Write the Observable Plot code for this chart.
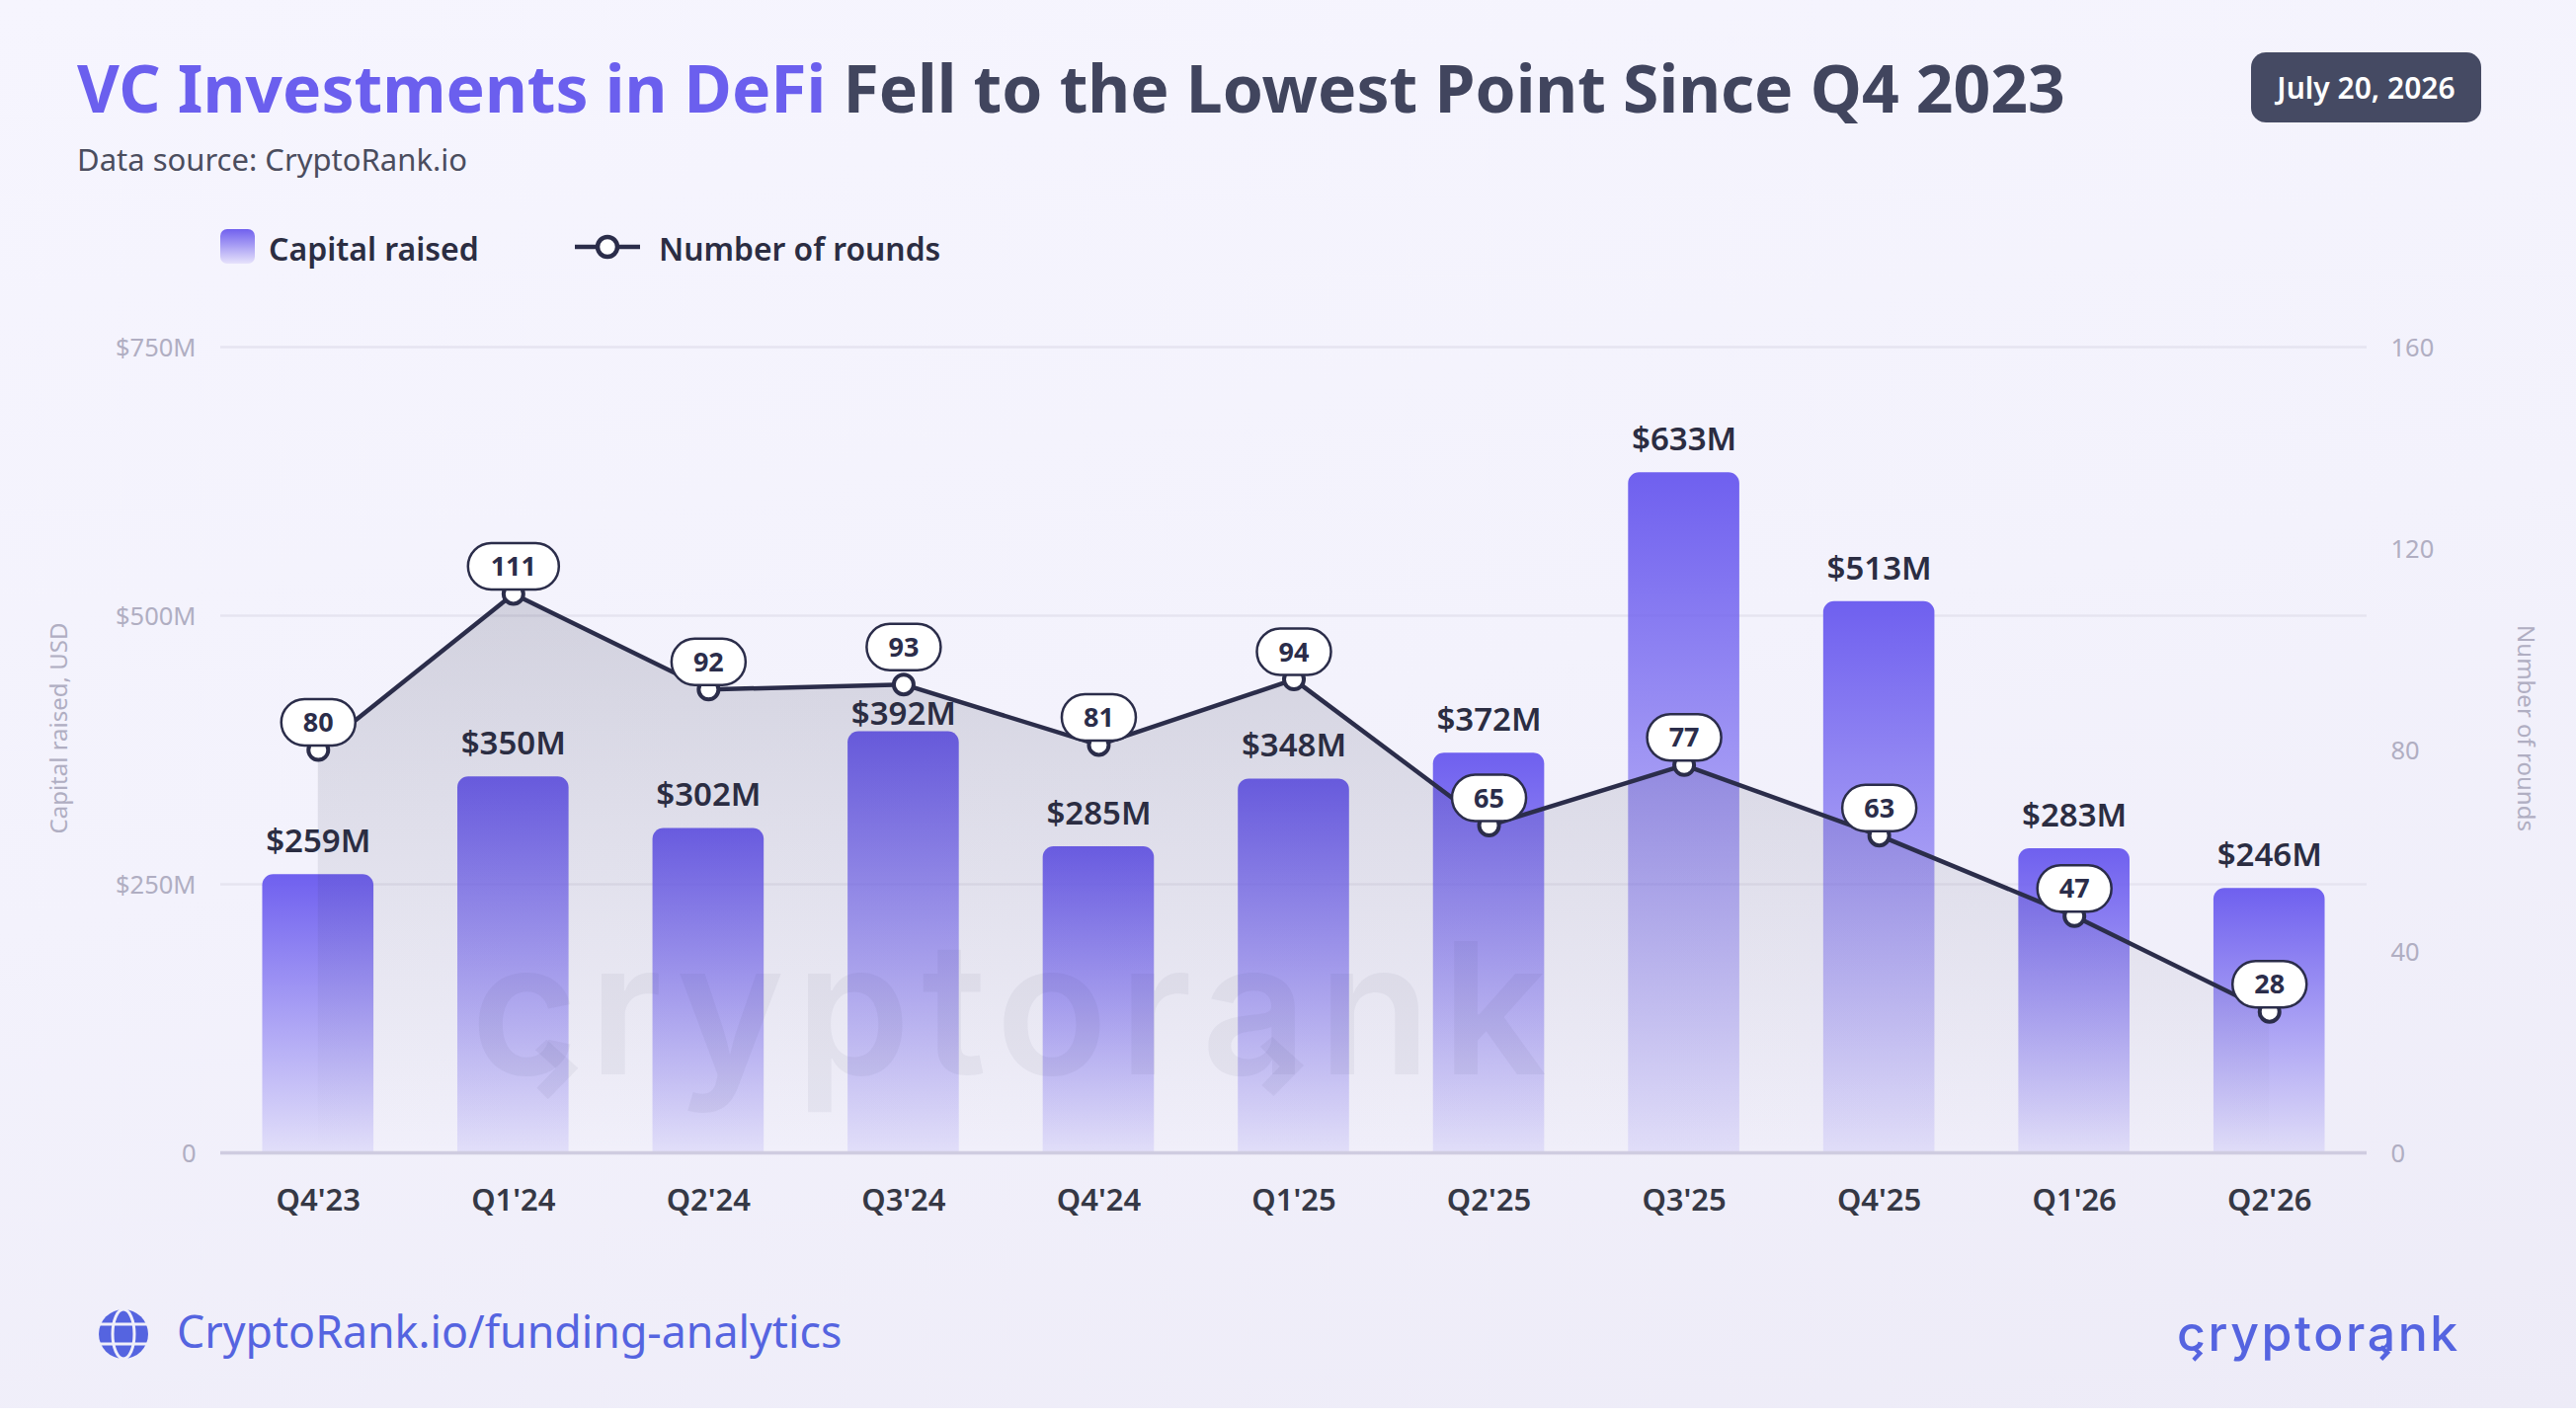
<!DOCTYPE html>
<html>
<head>
<meta charset="utf-8">
<script src="https://cdn.jsdelivr.net/npm/d3@7"></script>
<script src="https://cdn.jsdelivr.net/npm/@observablehq/plot@0.6"></script>
<style>
html,body{margin:0;padding:0;width:2608px;height:1436px;overflow:hidden;background:#fff;}
body{position:relative;font-family:"Noto Sans",sans-serif;}
#bg{position:absolute;left:0;top:0;width:2608px;height:1426px;background:linear-gradient(170deg,#f6f5fe 0%,#f3f2fc 50%,#edebf7 100%);}
.abs{position:absolute;white-space:nowrap;}
#header{position:relative;height:300px;}
#chart{position:relative;}
#chart svg{display:block;background:transparent;overflow:visible;}
#footer{position:relative;height:176px;}
</style>
</head>
<body>
<div id="bg"></div>
<div id="header">
  <div class="abs" style="left:78px;top:44px;font-size:66px;line-height:88px;font-weight:700;color:#41455e;"><span style="color:#6b5fee">VC Investments in DeFi</span> Fell to the Lowest Point Since Q4 2023</div>
  <div class="abs" style="left:78px;top:138px;font-size:31px;line-height:46px;color:#4b4d5e;">Data source: CryptoRank.io</div>
  <div class="abs" style="left:2279px;top:53px;width:233px;height:71px;border-radius:15px;background:#454a63;color:#fff;font-size:30px;font-weight:600;line-height:71px;text-align:center;">July 20, 2026</div>
  <div class="abs" style="left:223px;top:232px;width:35px;height:35px;border-radius:7px;background:linear-gradient(#7060ee,#e6e2fb);"></div>
  <div class="abs" style="left:272px;top:228px;font-size:32px;line-height:48px;font-weight:600;color:#2b2d42;">Capital raised</div>
  <svg class="abs" style="left:582px;top:230px;" width="66" height="40"><line x1="0" x2="66" y1="20" y2="20" stroke="#2b2d4a" stroke-width="4.5"/><circle cx="33" cy="20" r="10" fill="#fff" stroke="#2b2d4a" stroke-width="4.5"/></svg>
  <div class="abs" style="left:667px;top:228px;font-size:31.8px;line-height:48px;font-weight:600;color:#2b2d42;">Number of rounds</div>
</div>
<div id="chart"></div>
<div id="footer">
  <svg class="abs" style="left:100px;top:66px;" width="50" height="50" viewBox="0 0 50 50">
    <circle cx="25" cy="25" r="25" fill="#5564e0"/>
    <g fill="none" stroke="#f0eff9" stroke-width="3"><ellipse cx="25" cy="25" rx="11" ry="25"/><line x1="0" x2="50" y1="15" y2="15"/><line x1="0" x2="50" y1="35" y2="35"/></g>
  </svg>
  <div class="abs" style="left:179px;top:56px;font-size:44.7px;line-height:64px;color:#5564e0;">CryptoRank.io/funding-analytics</div>
  <div class="abs" id="logo" style="left:2204px;top:53px;font-size:50px;line-height:74px;letter-spacing:2.6px;font-family:Inter,sans-serif;font-weight:500;color:#5564e0;">cryptorank</div>
</div>
<script>
const quarters = ["Q4'23","Q1'24","Q2'24","Q3'24","Q4'24","Q1'25","Q2'25","Q3'25","Q4'25","Q1'26","Q2'26"];
const capitalRaised = [259,350,302,392,285,348,372,633,513,283,246];
const roundsCount = [80,111,92,93,81,94,65,77,63,47,28];
const capitalTicks = [0,250,500,750];
const roundsTicks = [0,40,80,120,160];
const nudgedQuarter = "Q3'24";

const capitalMax = 750, roundsMax = 160;
const k = capitalMax / roundsMax;
const table = quarters.map((q,i)=>({q,capital:capitalRaised[i],rounds:roundsCount[i]}));
const fmtCap = v => v === 0 ? "0" : `$${v}M`;
const ink = "#2b2d4a";
const tickInk = "#b0aec2";
const isNudged = d => d.q === nudgedQuarter;
const notNudged = d => d.q !== nudgedQuarter;

function pill(w,h){
  const r=h/2, a=w/2-r;
  return {draw(c){
    c.moveTo(-a,-r); c.lineTo(a,-r);
    c.arc(a,0,r,-Math.PI/2,Math.PI/2);
    c.lineTo(-a,r);
    c.arc(-a,0,r,Math.PI/2,Math.PI*1.5);
    c.closePath();
  }};
}
const defs = () => {
  const s = d3.create("svg:defs");
  const g = s.append("linearGradient").attr("id","barG").attr("x1",0).attr("x2",0).attr("y1",0).attr("y2",1);
  g.append("stop").attr("offset",0).attr("stop-color","#6f60ef");
  g.append("stop").attr("offset",1).attr("stop-color","#6f60ef").attr("stop-opacity",0.12);
  const a = s.append("linearGradient").attr("id","areaG").attr("x1",0).attr("x2",0).attr("y1",0).attr("y2",1);
  a.append("stop").attr("offset",0).attr("stop-color","#2b2d4a").attr("stop-opacity",0.17);
  a.append("stop").attr("offset",1).attr("stop-color","#2b2d4a").attr("stop-opacity",0.0);
  return s.node();
};
const roundsY = d => d.rounds*k;

const chart = Plot.plot({
  width:2608, height:960,
  marginLeft:223, marginRight:212, marginTop:51, marginBottom:93,
  style:{background:"transparent",fontFamily:"'Noto Sans',sans-serif"},
  x:{type:"band",domain:quarters,paddingInner:0.43,paddingOuter:0.215,align:0.5,round:false,label:null},
  y:{domain:[0,capitalMax],label:null},
  marks:[
    defs,
    Plot.ruleY(capitalTicks.slice(1),{stroke:"#e6e4f0",strokeWidth:2.5}),
    Plot.barY(table,{x:"q",y:"capital",fill:"url(#barG)",rx1y1:11,rx2y1:11}),
    Plot.areaY(table,{x:"q",y:roundsY,fill:"url(#areaG)",stroke:"none"}),
    Plot.text(["cryptorank"],{frameAnchor:"middle",dx:-283,dy:269,fontSize:186,fontFamily:"Inter,sans-serif",fontWeight:600,fill:ink,fillOpacity:0.05}),
    Plot.ruleY([0],{stroke:"#cfcce0",strokeWidth:3.5}),
    Plot.axisX({anchor:"bottom",tickSize:0,tickPadding:36,fontSize:31,fontWeight:600,color:"#353845",label:null}),
    Plot.axisY({anchor:"left",ticks:capitalTicks,tickFormat:fmtCap,tickSize:0,tickPadding:25,fontSize:25.5,color:tickInk,dy:1.5,label:null}),
    Plot.axisY({anchor:"right",ticks:roundsTicks.map(v=>v*k),tickFormat:v=>String(Math.round(v/k)),tickSize:0,tickPadding:24,fontSize:25.5,color:tickInk,dy:1.5,label:null}),
    Plot.text(["Capital raised, USD"],{frameAnchor:"left",textAnchor:"middle",rotate:-90,dx:60-223,dy:-22,fontSize:24,fill:tickInk}),
    Plot.text(["Number of rounds"],{frameAnchor:"right",textAnchor:"middle",rotate:90,dx:2556-2396,dy:-22,fontSize:24,fill:tickInk}),
    Plot.text(table.filter(notNudged),{x:"q",y:"capital",text:d=>`$${d.capital}M`,dy:-33,fontSize:33,fontWeight:600,fill:"#2b2d42"}),
    Plot.text(table.filter(isNudged),{x:"q",y:"capital",text:d=>`$${d.capital}M`,dy:-18,fontSize:33,fontWeight:600,fill:"#2b2d42"}),
    Plot.line(table,{x:"q",y:roundsY,stroke:ink,strokeWidth:4.5}),
    Plot.dot(table,{x:"q",y:roundsY,r:10,fill:"#fff",stroke:ink,strokeWidth:4}),
    Plot.dot(table.filter(d=>d.rounds<100&&notNudged(d)),{x:"q",y:roundsY,symbol:pill(75,47),r:10,dy:-28,fill:"#fff",stroke:ink,strokeWidth:2.5}),
    Plot.dot(table.filter(isNudged),{x:"q",y:roundsY,symbol:pill(75,47),r:10,dy:-38,fill:"#fff",stroke:ink,strokeWidth:2.5}),
    Plot.dot(table.filter(d=>d.rounds>=100),{x:"q",y:roundsY,symbol:pill(92,47),r:10,dy:-28,fill:"#fff",stroke:ink,strokeWidth:2.5}),
    Plot.text(table.filter(notNudged),{x:"q",y:roundsY,text:d=>String(d.rounds),dy:-27,fontSize:27,fontWeight:700,fill:ink}),
    Plot.text(table.filter(isNudged),{x:"q",y:roundsY,text:d=>String(d.rounds),dy:-37,fontSize:27,fontWeight:700,fill:ink})
  ]
});
document.getElementById("chart").appendChild(chart);
chart.querySelectorAll("text").forEach(t=>{ if(t.textContent==="cryptorank") t.style.letterSpacing="11.4px"; });

// brand arrows inside the "c" and "a" of the wordmark
const chevC = "135,458 177,545 137,640 122,605 147,545 120,490";
const chevA = "1095,450 1137,537 1097,630 1081,597 1105,540 1079,480";
function chev(pts,scale,ox,oy,color,op){
  const out=pts.split(" ").map(p=>{const [X,Y]=p.split(",").map(Number);
    return [ox+(450+X/1.3067-484)*scale, oy+(900+Y/3-1095)*scale].join(",");}).join(" ");
  return `<polygon points="${out}" fill="${color}" fill-opacity="${op}"/>`;
}
const ov=document.createElementNS("http://www.w3.org/2000/svg","svg");
ov.setAttribute("width",2608);ov.setAttribute("height",1426);
ov.setAttribute("style","position:absolute;left:0;top:0;pointer-events:none;");
ov.innerHTML=chev(chevC,1,484,1095,ink,0.05)+chev(chevA,1,484,1095,ink,0.05)
  +chev(chevC,0.2586,2204,1374,"#5564e0",1)+chev(chevA,0.2586,2204,1374,"#5564e0",1);
document.body.appendChild(ov);
</script>
</body>
</html>
